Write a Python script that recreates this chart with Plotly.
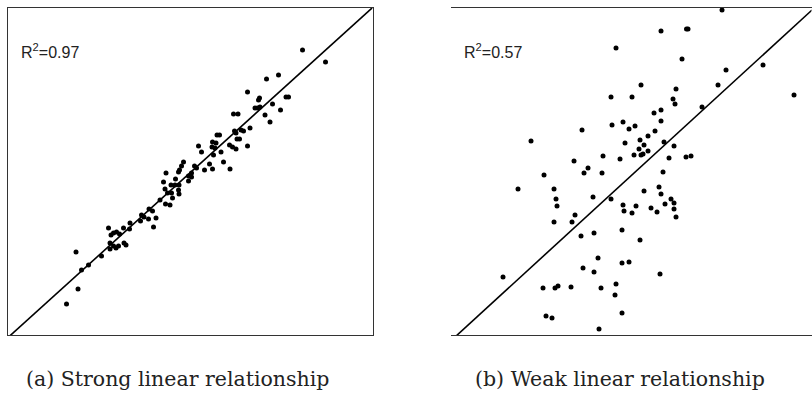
import plotly.graph_objects as go

# strong relationship panel (a)
strong_x = [295, 318, 259, 271, 240, 251, 252, 278.5, 281, 265, 247.5, 250, 252.5, 273, 257.5,
            262.5, 226, 230.5, 242.5, 233.5, 236, 227, 228.5, 209.5, 212, 229.5, 232, 205, 208.5,
            191, 240, 222, 225, 228.5, 204.5, 207.5, 194, 213.5, 206, 216, 176, 174, 202, 187,
            189, 197, 205, 222.5, 172, 171, 158.5, 184, 181, 184, 168, 181, 156, 163.5, 167.5,
            171.5, 157.5, 171, 160, 164, 171.5, 165, 152.5, 158, 162.5, 141.5, 145, 134, 136.5,
            133, 141, 148.5, 146, 122.5, 122, 116, 101, 106, 109, 112, 103.5, 102.5, 106, 111,
            108.5, 102.5, 116.5, 118.5, 94, 81, 74, 68.5, 70.5, 59]
strong_y = [285, 273, 256, 260, 243, 235, 237, 238, 238, 231, 227, 227, 228, 225, 220,
            213, 221, 221, 207, 205, 204, 204, 202, 200, 200, 196, 196, 193, 192,
            189, 189, 190, 188, 186, 188, 187, 183, 183, 180, 173, 173, 169, 171, 169,
            167, 165, 166, 166, 165, 163, 162, 162, 159, 158, 156, 154, 153, 150, 150,
            150, 146, 145, 142, 142, 141, 137, 135, 131, 130, 126, 124, 120, 118,
            114, 116, 117, 108, 112, 106, 107, 107, 102, 103, 101, 100, 92, 89, 89,
            87, 86, 92, 90, 79, 70, 65, 83, 46, 31]

# weak relationship panel (b)
weak_x = [271, 210, 235.5, 237, 165, 231, 312, 275, 190, 267, 225, 343, 160, 181, 222, 224,
          251, 203, 210, 210, 161, 172, 178, 184, 131, 204, 197, 189, 80, 174, 213, 193, 188,
          197, 223, 183, 190, 192, 152, 169, 218, 235, 240, 123, 137, 133, 151, 212, 93, 208,
          67, 103, 193, 210, 142, 160, 220, 105, 106, 172, 173, 185, 181, 200, 206, 214, 223,
          223, 225, 124, 121, 103, 130, 143, 171, 189, 147, 171, 178, 132, 143, 209, 52, 92,
          104, 107, 120, 150, 165, 164, 95, 101, 171, 148, 187]
weak_y = [325, 304, 306, 306, 287, 276, 270, 265, 250, 250, 246, 240, 238, 238, 236, 231,
          228, 222, 225, 214, 210, 213, 206, 209, 205, 204, 199, 195, 194, 192, 193, 190, 186,
          184, 189, 180, 180, 181, 179, 176, 177, 178, 179, 174, 167, 162, 162, 163, 160, 148,
          146, 146, 144, 141, 138, 136, 136, 136, 129, 130, 124, 129, 122, 127, 123, 131, 132,
          126, 118, 120, 113, 113, 99, 102, 105, 95, 77, 72, 73, 67, 63, 61, 58, 47,
          47, 49, 48, 47, 51, 40, 19, 17, 22, 6, -8]

# fitted lines (slope, intercept) and R^2 labels
fit_a = (0.905, -3.0)
fit_b = (0.916, -5.7)
r2_labels = ["R<sup>2</sup>=0.97", "R<sup>2</sup>=0.57"]
captions = ["(a) Strong linear relationship", "(b) Weak linear relationship"]

W, H = 812, 394

fig = go.Figure()

fig.add_trace(go.Scatter(x=strong_x, y=strong_y, mode="markers", cliponaxis=False,
                         marker=dict(size=5, color="black"), xaxis="x", yaxis="y"))
lx = [0, 365]
fig.add_trace(go.Scatter(x=lx, y=[fit_a[0] * v + fit_a[1] for v in lx], mode="lines",
                         cliponaxis=False, line=dict(color="black", width=1.6),
                         xaxis="x", yaxis="y"))

fig.add_trace(go.Scatter(x=weak_x, y=weak_y, mode="markers", cliponaxis=False,
                         marker=dict(size=5, color="black"), xaxis="x2", yaxis="y2"))
rx = [0, 361]
fig.add_trace(go.Scatter(x=rx, y=[fit_b[0] * v + fit_b[1] for v in rx], mode="lines",
                         cliponaxis=False, line=dict(color="black", width=1.6),
                         xaxis="x2", yaxis="y2"))

ax = dict(showgrid=False, zeroline=False, showticklabels=False, ticks="",
          showline=True, mirror=True, linecolor="#333", linewidth=1)
ydom = [1 - 335 / H, 1 - 7.5 / H]

fig.update_layout(
    width=W, height=H,
    margin=dict(l=0, r=0, t=0, b=0),
    paper_bgcolor="white", plot_bgcolor="white",
    showlegend=False,
    xaxis=dict(ax, domain=[7.5 / W, 372.5 / W], range=[0, 365]),
    yaxis=dict(ax, domain=ydom, range=[0, 327.5]),
    xaxis2=dict(ax, domain=[451 / W, 811.5 / W], range=[0, 360.5]),
    yaxis2=dict(ax, domain=ydom, range=[0, 327.5]),
)

for i, (x0, cx) in enumerate([(19, 177), (462, 620)]):
    fig.add_annotation(text=r2_labels[i], xref="paper", yref="paper",
                       x=x0 / W, y=1 - 51 / H, xanchor="left", yanchor="middle",
                       showarrow=False,
                       font=dict(family="Liberation Sans, Arial", size=16, color="#222"))
    fig.add_annotation(text=captions[i], xref="paper", yref="paper",
                       x=cx / W, y=1 - 379 / H, xanchor="center", yanchor="middle",
                       showarrow=False,
                       font=dict(family="DejaVu Serif, serif", size=20.5, color="#222"))

# drop the default page margin so the figure sits at the window's top-left corner
fig.write_html("out.html", config={"displayModeBar": False},
               post_script="document.body.style.margin = '0';")
